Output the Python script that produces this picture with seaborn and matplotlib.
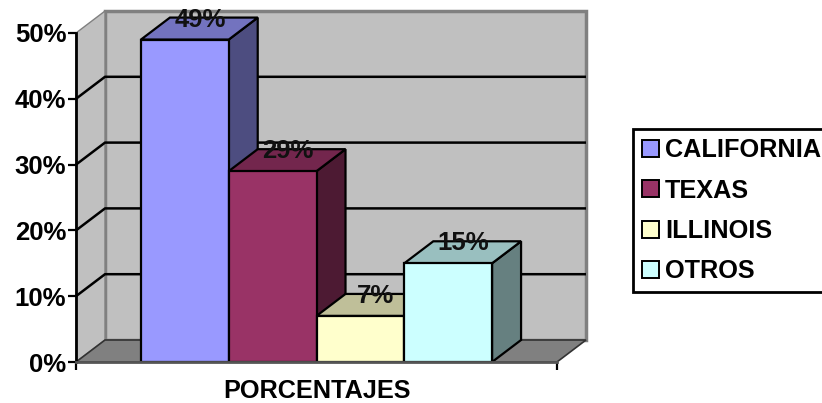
import matplotlib
matplotlib.use('Agg')
import matplotlib.pyplot as plt
import numpy as np
import pandas as pd
import seaborn as sns
from matplotlib.patches import Polygon
from matplotlib.transforms import IdentityTransform

estados = ['CALIFORNIA', 'TEXAS', 'ILLINOIS', 'OTROS']
porcentajes = [49, 29, 7, 15]
colores = ['#9999FF', '#993366', '#FFFFCC', '#CCFFFF']
categoria = ['PORCENTAJES'] * 4
yticks = [0, 10, 20, 30, 40, 50]

# depth of the fake 3d box in pixels
DX = 29
DY = 22

sns.set_style('white')
plt.rcParams['font.family'] = ['Liberation Sans', 'DejaVu Sans']
plt.rcParams['font.weight'] = 'bold'
plt.rcParams['text.color'] = 'black'
plt.rcParams['xtick.color'] = 'black'
plt.rcParams['ytick.color'] = 'black'

W, H = 822, 403
fig = plt.figure(figsize=(W / 100, H / 100), dpi=100)
ax = fig.add_axes([76 / W, 1 - 362 / H, 481 / W, 329 / H])

df = pd.DataFrame({'cat': categoria, 'estado': estados, 'valor': porcentajes})
sns.barplot(data=df, x='cat', y='valor', hue='estado', hue_order=estados, palette=colores,
            width=0.73, gap=0, saturation=1, edgecolor='black', linewidth=1.6, ax=ax)
ax.set_xlim(-0.5, 0.5)
ax.set_ylim(0, 50)
ax.patch.set_visible(False)
fig.canvas.draw()


def cara(puntos, color, z, lw=1.6, ec='black'):
    # puntos: (x, y, on back plane?) in data coordinates
    xy = []
    for x, y, atras in puntos:
        px = ax.transData.transform((x, y))
        xy.append((px[0] + DX * atras, px[1] + DY * atras))
    ax.add_patch(Polygon(xy, closed=True, facecolor=color, edgecolor=ec, linewidth=lw,
                         transform=IdentityTransform(), clip_on=False, zorder=z))


def linea(puntos, color, z, lw=1.8):
    xy = []
    for x, y, atras in puntos:
        px = ax.transData.transform((x, y))
        xy.append((px[0] + DX * atras, px[1] + DY * atras))
    xy = np.array(xy)
    ax.plot(xy[:, 0], xy[:, 1], color=color, lw=lw, transform=IdentityTransform(),
            clip_on=False, zorder=z, solid_capstyle='butt')


x0, x1 = ax.get_xlim()
ymax = yticks[-1]
# walls and floor
cara([(x0, 0, 1), (x1, 0, 1), (x1, ymax, 1), (x0, ymax, 1)], '#C0C0C0', 0.5, lw=2.5, ec='#808080')
cara([(x0, 0, 0), (x0, 0, 1), (x0, ymax, 1), (x0, ymax, 0)], '#C0C0C0', 0.5, lw=1, ec='#808080')
cara([(x0, 0, 0), (x1, 0, 0), (x1, 0, 1), (x0, 0, 1)], '#808080', 0.6, lw=1.2, ec='#333333')
for t in yticks[1:-1]:
    linea([(x0, t, 0), (x0, t, 1), (x1, t, 1)], 'black', 0.8)

# side and top of every bar, left to right
for i, (bar, color) in enumerate(zip(ax.patches[:4], colores)):
    izq = bar.get_x()
    der = izq + bar.get_width()
    alto = bar.get_height()
    rgb = np.array(matplotlib.colors.to_rgb(color))
    cara([(der, 0, 0), (der, 0, 1), (der, alto, 1), (der, alto, 0)], rgb * 0.5, 2 + i * 0.1)
    cara([(izq, alto, 0), (der, alto, 0), (der, alto, 1), (izq, alto, 1)], rgb * 0.75, 2 + i * 0.1)
    bar.set_zorder(3)
    ax.annotate(f'{alto:.0f}%', (izq + bar.get_width() / 2, alto), xytext=(15, 20),
                textcoords='offset pixels', ha='center', va='center', fontsize=18.5,
                fontweight='bold', color='#111111', zorder=10, annotation_clip=False)

# axes
for s in ['top', 'right']:
    ax.spines[s].set_visible(False)
ax.spines['left'].set_linewidth(2)
ax.spines['left'].set_color('black')
ax.spines['left'].set_zorder(4)
ax.spines['bottom'].set_linewidth(2)
ax.spines['bottom'].set_color('#555555')
ax.spines['bottom'].set_zorder(4)
ax.set_yticks(yticks)
ax.set_yticklabels([f'{t}%' for t in yticks], fontsize=18.5, fontweight='bold')
ax.tick_params(axis='y', left=True, length=5.5, width=1.6, color='black', pad=1.5)
ax.set_xticks([0])
ax.set_xticklabels(['PORCENTAJES'], fontsize=18.2, fontweight='bold')
ax.set_xticks([x0, x1], minor=True)
ax.tick_params(axis='x', which='major', bottom=False, pad=9)
ax.tick_params(axis='x', which='minor', bottom=True, length=5.5, width=1.6, color='black')
ax.set_xlabel('')
ax.set_ylabel('')

h, l = ax.get_legend_handles_labels()
leg = ax.legend(h, l, loc='upper left', bbox_to_anchor=(633 / W, 1 - 129 / H), bbox_transform=fig.transFigure,
                fontsize=18.2, frameon=True, fancybox=False, framealpha=1, facecolor='white', edgecolor='black',
                handlelength=0.65, handleheight=0.65, handletextpad=0.25, labelspacing=0.65,
                borderpad=0.36, borderaxespad=0)
leg.get_frame().set_linewidth(2)
for t in leg.get_texts():
    t.set_fontweight('bold')
for p in leg.get_patches():
    p.set_edgecolor('black')
    p.set_linewidth(1.4)

fig.savefig('out.png', dpi=100)
